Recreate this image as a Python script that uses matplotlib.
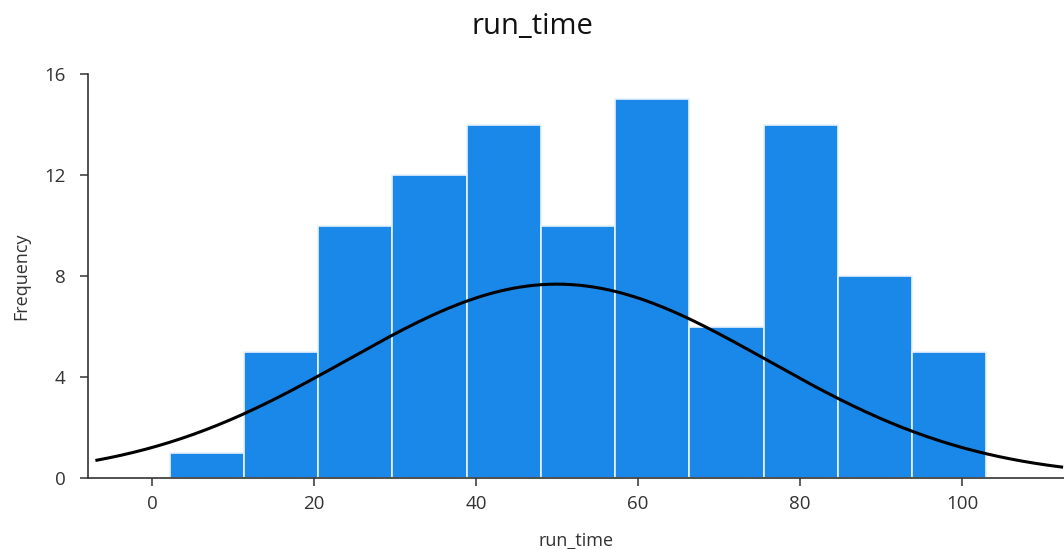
#!/usr/bin/env python3
# -*- coding: utf-8 -*-

import numpy as np
import matplotlib
matplotlib.use("Agg")
import matplotlib.pyplot as plt

# histogram counts per bin
counts = [1, 5, 10, 12, 14, 10, 15, 6, 14, 8, 5]
bin_start = 2.2
bin_end = 103.0

# fitted normal curve parameters
fit_mean = 50.0
fit_std = 26.0
fit_peak = 7.68
curve_from = -6.8
curve_to = 112.3

x_ticks = [0, 20, 40, 60, 80, 100]
y_ticks = [0, 4, 8, 12, 16]

plt.rcParams["font.family"] = ["Open Sans", "DejaVu Sans"]

fig = plt.figure(figsize=(10.64, 5.49), dpi=100)
ax = fig.add_axes([0.0827, 0.1293, 0.9173, 0.7357])

edges = np.linspace(bin_start, bin_end, len(counts) + 1)
widths = np.diff(edges)

# barres
ax.bar(edges[:-1], counts, width=widths, align="edge",
       color="#1a88e8", edgecolor="#e8f2fc", linewidth=1.2, zorder=2)

# courbe normale
xs = np.linspace(curve_from, curve_to, 400)
ys = fit_peak * np.exp(-0.5 * ((xs - fit_mean) / fit_std) ** 2)
ax.plot(xs, ys, color="black", linewidth=2.2, zorder=3)

ax.set_xlim(-7.9, 112.6)
ax.set_ylim(0, 16)
ax.set_xticks(x_ticks)
ax.set_yticks(y_ticks)

for side in ["top", "right"]:
    ax.spines[side].set_visible(False)
for side in ["left", "bottom"]:
    ax.spines[side].set_color("#333333")
    ax.spines[side].set_linewidth(1.2)

ax.tick_params(axis="both", colors="#333333", labelsize=13.5, length=6, width=1.1)
ax.tick_params(axis="x", pad=6)
ax.tick_params(axis="y", pad=10)

ax.set_xlabel("run_time", fontsize=13, color="#333333", labelpad=14)
ax.set_ylabel("Frequency", fontsize=13, color="#333333", labelpad=10)
fig.suptitle("run_time", fontsize=21, color="#111111", y=0.978)

plt.savefig("out.png", dpi=100)
plt.close(fig)
